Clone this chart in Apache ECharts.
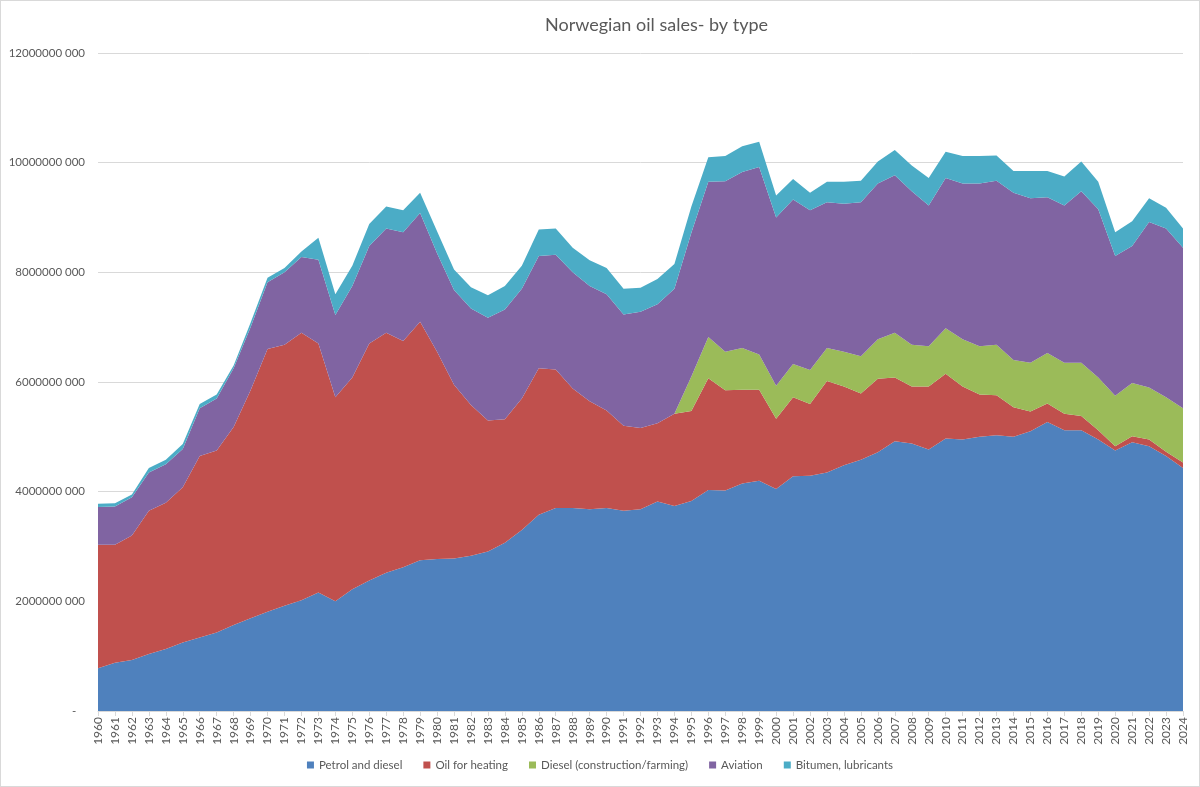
<!DOCTYPE html>
<html>
<head>
<meta charset="utf-8">
<script src="https://cdn.jsdelivr.net/npm/echarts@6/dist/echarts.min.js"></script>
<style>
  html, body { margin: 0; padding: 0; background: #fff; }
  #chart-container { width: 1200px; height: 787px; box-sizing: border-box; border: 1px solid #d9d9d9; }
</style>
</head>
<body>
<div id="chart-container"></div>
<script>
// years on the x axis
const years = [];
for (let y = 1960; y <= 2024; y++) years.push(String(y));

// sales in million litres
const petrolDiesel = [
  780, 880, 930, 1040, 1130, 1250, 1340, 1430, 1570, 1690,
  1810, 1920, 2020, 2160, 2000, 2220, 2380, 2520, 2620, 2750,
  2770, 2780, 2830, 2910, 3070, 3300, 3580, 3700, 3700, 3680,
  3700, 3650, 3680, 3820, 3740, 3830, 4030, 4020, 4150, 4200,
  4050, 4280, 4290, 4350, 4480, 4580, 4720, 4920, 4880, 4770,
  4970, 4950, 5000, 5030, 5000, 5100, 5270, 5120, 5120, 4950,
  4750, 4900, 4830, 4650, 4430,
];
const heatingOil = [
  2250, 2150, 2270, 2610, 2670, 2830, 3310, 3320, 3610, 4160,
  4790, 4760, 4880, 4540, 3720, 3860, 4320, 4380, 4130, 4350,
  3780, 3170, 2750, 2390, 2250, 2400, 2670, 2530, 2180, 1970,
  1780, 1550, 1480, 1430, 1680, 1640, 2040, 1830, 1710, 1660,
  1280, 1440, 1310, 1670, 1440, 1210, 1340, 1160, 1040, 1150,
  1180, 970, 770, 730, 540, 360, 340, 300, 260, 170,
  80, 110, 120, 80, 100,
];
const dieselConstruction = [
  0, 0, 0, 0, 0, 0, 0, 0, 0, 0,
  0, 0, 0, 0, 0, 0, 0, 0, 0, 0,
  0, 0, 0, 0, 0, 0, 0, 0, 0, 0,
  0, 0, 0, 0, 0, 630, 750, 700, 760, 640,
  600, 610, 620, 600, 630, 680, 720, 820, 760, 730,
  830, 860, 880, 920, 860, 890, 920, 930, 970, 960,
  920, 970, 950, 990, 990,
];
const aviation = [
  690, 700, 700, 700, 700, 700, 870, 950, 1070, 1150,
  1220, 1320, 1380, 1530, 1500, 1670, 1780, 1900, 1980, 1980,
  1800, 1730, 1760, 1870, 2000, 2000, 2050, 2090, 2120, 2100,
  2120, 2030, 2120, 2170, 2280, 2620, 2830, 3110, 3210, 3420,
  3070, 3000, 2910, 2660, 2700, 2810, 2840, 2870, 2800, 2570,
  2740, 2840, 2970, 2990, 3050, 3000, 2840, 2870, 3130, 3070,
  2550, 2500, 3020, 3080, 2930,
];
const bitumen = [
  60, 60, 50, 80, 80, 90, 80, 70, 50, 80,
  80, 80, 100, 400, 380, 370, 400, 400, 400, 370,
  400, 370, 390, 410, 430, 420, 480, 480, 450, 470,
  480, 470, 440, 460, 450, 480, 450, 460, 470, 460,
  400, 370, 320, 370, 400, 390, 400, 460, 470, 500,
  480, 500, 500, 460, 400, 500, 480, 530, 540, 500,
  430, 450, 430, 380, 350,
];

const seriesNames = [
  "Petrol and diesel",
  "Oil for heating",
  "Diesel (construction/farming)",
  "Aviation",
  "Bitumen, lubricants",
];
const seriesData = [petrolDiesel, heatingOil, dieselConstruction, aviation, bitumen];
const colors = ["#4F81BD", "#C0504D", "#9BBB59", "#8064A2", "#4BACC6"];

const font = "Lato, 'Liberation Sans', sans-serif";
const textColor = "#595959";

const dom = document.getElementById("chart-container");
const myChart = echarts.init(dom, null, { renderer: "canvas" });

const option = {
  animation: false,
  backgroundColor: "#ffffff",
  color: colors,
  title: {
    text: "Norwegian oil sales- by type",
    left: 539,
    top: 10,
    textStyle: { fontFamily: font, fontSize: 18, fontWeight: "normal", color: textColor },
  },
  legend: {
    bottom: 10,
    left: "center",
    icon: "rect",
    itemWidth: 7,
    itemHeight: 7,
    itemGap: 21,
    textStyle: { fontFamily: font, fontSize: 11.5, color: textColor },
    data: seriesNames,
  },
  grid: { left: 97, right: 16, top: 52, bottom: 75, containLabel: false },
  xAxis: {
    type: "category",
    boundaryGap: false,
    data: years,
    axisLine: { lineStyle: { color: "#d9d9d9" } },
    axisTick: { show: true, interval: 0, length: 5, lineStyle: { color: "#d9d9d9" } },
    axisLabel: {
      interval: 0,
      rotate: 90,
      fontFamily: font,
      fontSize: 12,
      color: textColor,
      margin: 6,
    },
  },
  yAxis: {
    type: "value",
    min: 0,
    max: 12000,
    interval: 2000,
    axisLine: { show: false },
    axisTick: { show: false },
    splitLine: { lineStyle: { color: "#d9d9d9" } },
    axisLabel: {
      fontFamily: font,
      fontSize: 11.5,
      color: textColor,
      margin: 13,
      formatter: function (v) {
        if (v === 0) return "-   ";
        return v * 1000 + " 000";
      },
    },
  },
  series: seriesNames.map(function (name, i) {
    return {
      name: name,
      type: "line",
      stack: "total",
      symbol: "none",
      lineStyle: { width: 0 },
      areaStyle: { color: colors[i], opacity: 1 },
      itemStyle: { color: colors[i] },
      data: seriesData[i],
    };
  }),
};

myChart.setOption(option);
window.addEventListener("resize", myChart.resize);
</script>
</body>
</html>
